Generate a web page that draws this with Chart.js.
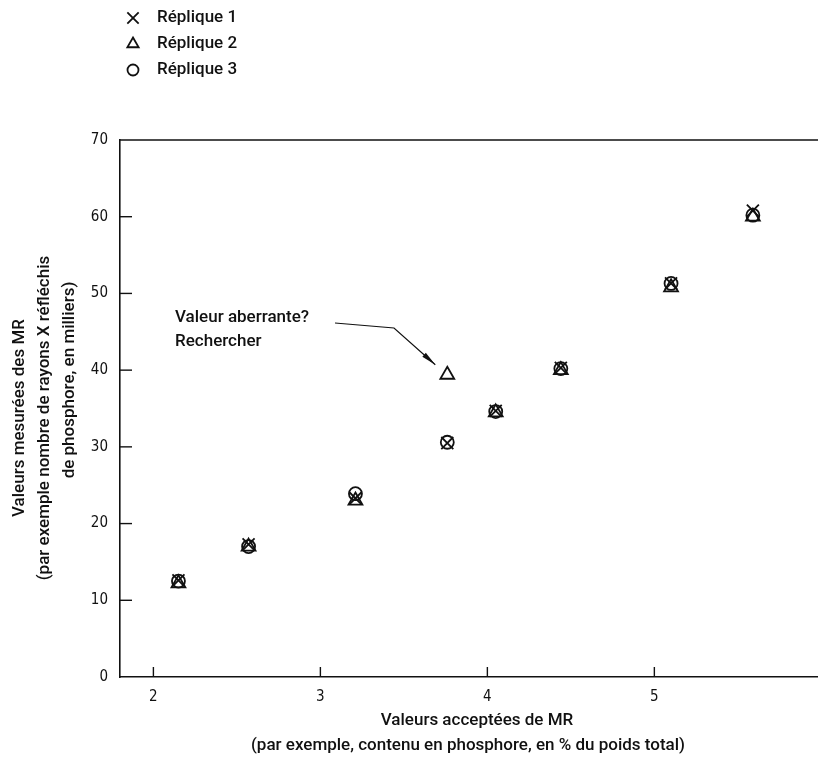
<!DOCTYPE html>
<html lang="fr">
<head>
<meta charset="utf-8">
<title>Répliques MR</title>
<script src="https://cdn.jsdelivr.net/npm/chart.js@4"></script>
<style>
    html, body { margin: 0; padding: 0; background: #fff; }
    #wrap { width: 818px; height: 762px; position: relative; }
</style>
</head>
<body>
<div id="wrap"><canvas id="chart" width="818" height="762"></canvas></div>
<script>
// valeurs acceptées (axe x)
const acceptedValues = [2.15, 2.57, 3.21, 3.76, 4.05, 4.44, 5.10, 5.59];
// valeurs mesurées, une liste par réplique
const replique1 = [12.6, 17.3, 23.3, 30.5, 34.7, 40.3, 51.3, 60.8];
const replique2 = [12.2, 17.0, 23.0, 39.4, 34.5, 40.0, 50.8, 60.0];
const replique3 = [12.5, 17.0, 23.9, 30.6, 34.6, 40.2, 51.3, 60.2];

const seriesNames = ['Réplique 1', 'Réplique 2', 'Réplique 3'];
const xTicks = [2, 3, 4, 5];
const yTicks = [0, 10, 20, 30, 40, 50, 60, 70];

const yTitle = [
    'Valeurs mesurées des MR',
    '(par exemple nombre de rayons X réfléchis',
    'de phosphore, en milliers)',
];
const xTitle = [
    'Valeurs acceptées de MR',
    '(par exemple, contenu en phosphore, en % du poids total)',
];
const outlierNote = ['Valeur aberrante?', 'Rechercher'];
const outlierIndex = 3;

const INK = '#111';
const TEXT_FONT = '500 17px Roboto, "Liberation Sans", sans-serif';
const TICK_FONT = { family: '"DejaVu Sans Condensed", "Liberation Sans Narrow", sans-serif', size: 15 };

function toPoints(ys) {
    return acceptedValues.map((x, i) => ({ x, y: ys[i] }));
}

const markerStyles = ['crossRot', 'triangle', 'circle'];
const markerRadius = { crossRot: 8.5, triangle: 8, circle: 6.5 };
const legendRadius = { crossRot: 8, triangle: 6.5, circle: 5.5 };

const datasets = [replique1, replique2, replique3].map((ys, i) => ({
    label: seriesNames[i],
    data: toPoints(ys),
    pointStyle: markerStyles[i],
    pointRadius: markerRadius[markerStyles[i]],
    pointBorderWidth: 1.8,
    borderColor: INK,
    backgroundColor: 'rgba(0,0,0,0)',
    showLine: false,
}));

const decorations = {
    id: 'decorations',
    afterDraw(chart) {
        const { ctx, chartArea } = chart;
        const xs = chart.scales.x;
        const ys = chart.scales.y;
        ctx.save();
        ctx.strokeStyle = INK;
        ctx.fillStyle = INK;
        ctx.lineWidth = 1.6;

        // cadre supérieur
        ctx.beginPath();
        ctx.moveTo(chartArea.left, chartArea.top);
        ctx.lineTo(chartArea.right, chartArea.top);
        ctx.stroke();

        // graduations intérieures
        ctx.lineWidth = 1.4;
        yTicks.slice(1, -1).forEach((v) => {
            const py = ys.getPixelForValue(v);
            ctx.beginPath();
            ctx.moveTo(chartArea.left, py);
            ctx.lineTo(chartArea.left + 12, py);
            ctx.stroke();
        });
        xTicks.forEach((v) => {
            const px = xs.getPixelForValue(v);
            ctx.beginPath();
            ctx.moveTo(px, chartArea.bottom);
            ctx.lineTo(px, chartArea.bottom - 10);
            ctx.stroke();
        });

        // titres des axes
        ctx.font = TEXT_FONT;
        ctx.textAlign = 'center';
        ctx.textBaseline = 'middle';
        ctx.save();
        ctx.rotate(-Math.PI / 2);
        ctx.fillText(yTitle[0], -418, 20);
        ctx.fillText(yTitle[1], -418, 45);
        ctx.fillText(yTitle[2], -380, 70);
        ctx.restore();
        ctx.fillText(xTitle[0], 477, 721);
        ctx.fillText(xTitle[1], 468, 746);

        // légende
        ctx.textAlign = 'left';
        chart.data.datasets.forEach((ds, i) => {
            const cy = 18 + i * 26;
            ctx.save();
            ctx.fillStyle = 'rgba(0,0,0,0)';
            ctx.lineWidth = 1.8;
            Chart.helpers.drawPoint(ctx, {
                pointStyle: ds.pointStyle,
                radius: legendRadius[ds.pointStyle],
                borderWidth: 1.8,
            }, 133, cy);
            ctx.restore();
            ctx.fillText(ds.label, 157, cy);
        });

        // annotation de la valeur aberrante
        const tx = xs.getPixelForValue(acceptedValues[outlierIndex]);
        const ty = ys.getPixelForValue(replique2[outlierIndex]);
        ctx.fillText(outlierNote[0], 175, 318);
        ctx.fillText(outlierNote[1], 175, 342);
        ctx.lineWidth = 1.2;
        const endX = tx - 12;
        const endY = ty - 10;
        ctx.beginPath();
        ctx.moveTo(335, 323);
        ctx.lineTo(394, 328);
        ctx.lineTo(endX, endY);
        ctx.stroke();
        // pointe de flèche allongée
        const ang = Math.atan2(endY - 328, endX - 394);
        ctx.save();
        ctx.translate(endX, endY);
        ctx.rotate(ang);
        ctx.beginPath();
        ctx.moveTo(0, 0);
        ctx.lineTo(-15, -2.6);
        ctx.lineTo(-15, 2.6);
        ctx.closePath();
        ctx.fill();
        ctx.restore();
        ctx.restore();
    },
};

new Chart(document.getElementById('chart'), {
    type: 'scatter',
    data: { datasets },
    options: {
        responsive: false,
        animation: false,
        layout: { autoPadding: false, padding: { top: 140, left: 0, right: 0, bottom: 0 } },
        plugins: {
            legend: { display: false },
            tooltip: { enabled: false },
        },
        scales: {
            x: {
                type: 'linear',
                min: 1.8,
                max: 5.98,
                afterFit(scale) { scale.height = 85; },
                afterBuildTicks(scale) { scale.ticks = xTicks.map((value) => ({ value })); },
                grid: { display: false },
                border: { display: true, color: INK, width: 1.6 },
                ticks: {
                    color: INK,
                    padding: 3,
                    maxRotation: 0,
                    font: TICK_FONT,
                },
            },
            y: {
                type: 'linear',
                min: 0,
                max: 70,
                afterFit(scale) { scale.width = 120; },
                afterBuildTicks(scale) { scale.ticks = yTicks.map((value) => ({ value })); },
                grid: { display: false },
                border: { display: true, color: INK, width: 1.6 },
                ticks: {
                    color: INK,
                    padding: 4,
                    font: TICK_FONT,
                },
            },
        },
    },
    plugins: [decorations],
});
</script>
</body>
</html>
